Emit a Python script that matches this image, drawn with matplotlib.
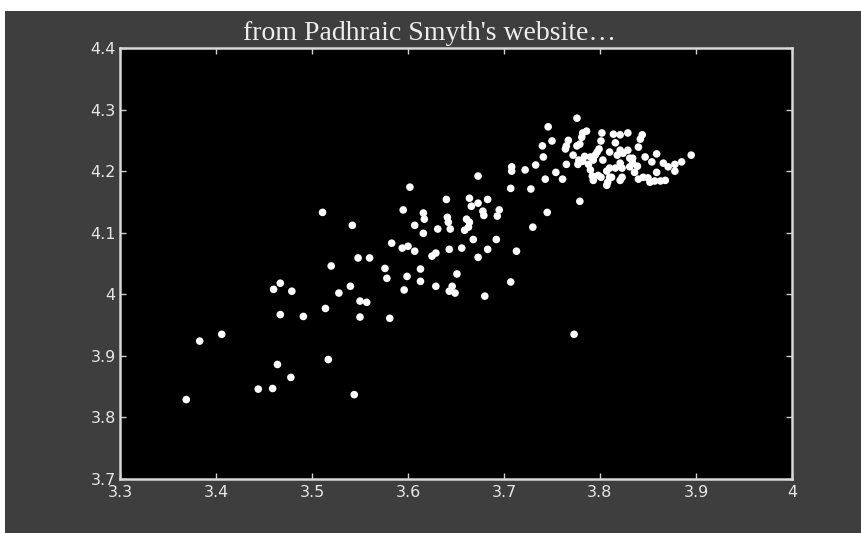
import matplotlib
matplotlib.use('Agg')
import matplotlib.pyplot as plt
from matplotlib.patches import Rectangle
from matplotlib.ticker import FuncFormatter

# points
xs = [3.369, 3.383, 3.406, 3.444, 3.459, 3.464, 3.478, 3.460, 3.467, 3.479,
      3.467, 3.491, 3.517, 3.514, 3.520, 3.528, 3.540, 3.544, 3.550, 3.557,
      3.550, 3.581, 3.511, 3.542, 3.548, 3.560, 3.576, 3.578, 3.596, 3.599,
      3.613, 3.613, 3.629, 3.583, 3.594, 3.600, 3.607, 3.602, 3.595, 3.616,
      3.617, 3.607, 3.631, 3.616, 3.625, 3.629, 3.640, 3.641, 3.642, 3.644,
      3.643, 3.656, 3.651, 3.646, 3.643, 3.649, 3.664, 3.673, 3.673, 3.666,
      3.678, 3.679, 3.683, 3.695, 3.693, 3.661, 3.664, 3.659, 3.663, 3.668,
      3.692, 3.683, 3.673, 3.713, 3.707, 3.680, 3.707, 3.728, 3.730, 3.745,
      3.708, 3.708, 3.722, 3.733, 3.741, 3.743, 3.754, 3.761, 3.750, 3.740,
      3.746, 3.765, 3.779, 3.776, 3.765, 3.767, 3.776, 3.772, 3.778, 3.764,
      3.782, 3.786, 3.781, 3.779, 3.802, 3.801, 3.799, 3.795, 3.790, 3.782,
      3.784, 3.777, 3.788, 3.793, 3.797, 3.790, 3.792, 3.793, 3.798, 3.807,
      3.808, 3.812, 3.821, 3.814, 3.821, 3.829, 3.816, 3.821, 3.818, 3.824,
      3.829, 3.831, 3.842, 3.840, 3.839, 3.831, 3.823, 3.816, 3.836, 3.847,
      3.859, 3.854, 3.866, 3.871, 3.878, 3.885, 3.895, 3.859, 3.850, 3.845,
      3.857, 3.863, 3.868, 3.878, 3.840, 3.844, 3.810, 3.803, 3.821, 3.834,
      3.810, 3.801, 3.810, 3.823, 3.807, 3.852, 3.834, 3.773]
ys = [3.829, 3.924, 3.935, 3.846, 3.847, 3.886, 3.865, 4.008, 4.018, 4.005,
      3.967, 3.964, 3.894, 3.977, 4.046, 4.002, 4.013, 3.837, 3.989, 3.987,
      3.963, 3.961, 4.133, 4.112, 4.059, 4.059, 4.042, 4.026, 4.007, 4.029,
      4.041, 4.021, 4.013, 4.083, 4.075, 4.078, 4.070, 4.174, 4.137, 4.132,
      4.122, 4.112, 4.106, 4.099, 4.062, 4.067, 4.154, 4.125, 4.117, 4.106,
      4.073, 4.075, 4.033, 4.013, 4.005, 4.002, 4.156, 4.192, 4.148, 4.143,
      4.135, 4.128, 4.154, 4.137, 4.127, 4.122, 4.117, 4.104, 4.109, 4.089,
      4.089, 4.073, 4.060, 4.070, 4.020, 3.997, 4.172, 4.171, 4.109, 4.133,
      4.207, 4.200, 4.202, 4.210, 4.223, 4.187, 4.198, 4.187, 4.249, 4.241,
      4.272, 4.211, 4.151, 4.286, 4.241, 4.250, 4.241, 4.226, 4.218, 4.236,
      4.262, 4.265, 4.255, 4.244, 4.262, 4.249, 4.236, 4.226, 4.223, 4.216,
      4.224, 4.211, 4.211, 4.218, 4.231, 4.202, 4.192, 4.185, 4.193, 4.200,
      4.182, 4.190, 4.185, 4.260, 4.259, 4.262, 4.246, 4.234, 4.226, 4.229,
      4.234, 4.221, 4.252, 4.239, 4.208, 4.207, 4.205, 4.205, 4.198, 4.223,
      4.228, 4.215, 4.213, 4.207, 4.211, 4.215, 4.226, 4.198, 4.189, 4.190,
      4.184, 4.184, 4.185, 4.200, 4.187, 4.259, 4.231, 4.218, 4.213, 4.213,
      4.205, 4.190, 4.190, 4.190, 4.177, 4.182, 4.221, 3.935]

xticks = [3.3, 3.4, 3.5, 3.6, 3.7, 3.8, 3.9, 4.0]
yticks = [3.7, 3.8, 3.9, 4.0, 4.1, 4.2, 4.3, 4.4]

fig = plt.figure(figsize=(8.62, 5.33), dpi=100, facecolor='white')
# grey slide background (white strip at top and left edge)
fig.patches.append(Rectangle((5/862, 0), 1, 1 - 11/533, transform=fig.transFigure,
                             facecolor='#3e3e3e', edgecolor='none', zorder=-5))

ax = fig.add_axes([120/862, 54/533, 672/862, 431/533])
ax.set_facecolor('black')
ax.scatter(xs, ys, s=30, c='white', edgecolors='none', zorder=3)

ax.set_xlim(3.3, 4.0)
ax.set_ylim(3.7, 4.4)
ax.set_xticks(xticks)
ax.set_yticks(yticks)
fmt = FuncFormatter(lambda v, p: '%g' % round(v, 2))
ax.xaxis.set_major_formatter(fmt)
ax.yaxis.set_major_formatter(fmt)
ax.tick_params(direction='in', top=True, right=True, length=4, width=1,
               color='#cfcfcf', labelcolor='#e6e6e6', labelsize=11.5)
ax.tick_params(axis='x', pad=4)
ax.tick_params(axis='y', pad=3)
for s in ax.spines.values():
    s.set_color('#d8d8d8')
    s.set_linewidth(1.8)

fig.text(430/862, 1 - 33/533, "from Padhraic Smyth's website\u2026",
         ha='center', va='center', color='#eeeeee', fontsize=20,
         family='Liberation Serif')

plt.savefig('out.png', dpi=100, facecolor=fig.get_facecolor())
